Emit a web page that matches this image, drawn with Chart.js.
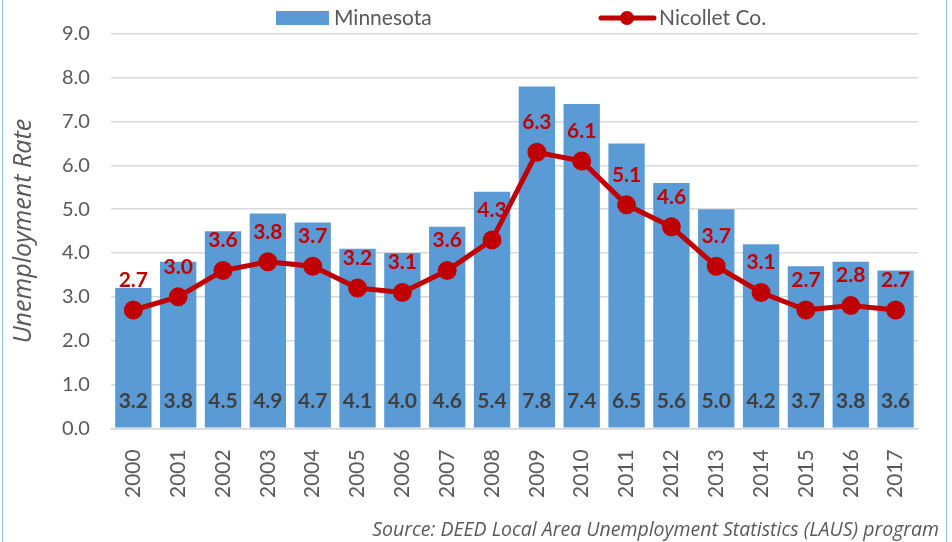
<!DOCTYPE html>
<html>
<head>
<meta charset="utf-8">
<script src="https://cdn.jsdelivr.net/npm/chart.js@4.4.1/dist/chart.umd.min.js"></script>
<style>
  html, body { margin: 0; padding: 0; background: #fff; }
  #wrap { position: absolute; left: 2px; top: -2px; width: 943px; height: 550px; border: 1px solid #9DC3E6; }
  canvas { position: absolute; left: -2px; top: 2px; }
</style>
</head>
<body>
<div id="wrap"><canvas id="lineChart" width="952" height="542"></canvas></div>
<script>
const years = ['2000','2001','2002','2003','2004','2005','2006','2007','2008','2009','2010','2011','2012','2013','2014','2015','2016','2017'];
const minnesota = [3.2, 3.8, 4.5, 4.9, 4.7, 4.1, 4.0, 4.6, 5.4, 7.8, 7.4, 6.5, 5.6, 5.0, 4.2, 3.7, 3.8, 3.6];
const nicollet = [2.7, 3.0, 3.6, 3.8, 3.7, 3.2, 3.1, 3.6, 4.3, 6.3, 6.1, 5.1, 4.6, 3.7, 3.1, 2.7, 2.8, 2.7];
const yTicks = [0, 1, 2, 3, 4, 5, 6, 7, 8, 9];
const sourceNote = 'Source: DEED Local Area Unemployment Statistics (LAUS) program';

const barColor = '#5B9BD5';
const lineColor = '#C00000';
const fontName = 'Lato, "Open Sans", sans-serif';
const italicFont = '"Open Sans", Lato, sans-serif';

// legend + source note drawn by hand (Chart.js legend padding is too tall here)
const extras = {
  id: 'extras',
  afterDraw(chart) {
    const ctx = chart.ctx;
    const y = 17;
    ctx.save();
    ctx.fillStyle = barColor;
    ctx.fillRect(275, y - 7, 53, 14);
    ctx.strokeStyle = lineColor;
    ctx.lineWidth = 5;
    ctx.lineCap = 'round';
    ctx.beginPath(); ctx.moveTo(600, y); ctx.lineTo(653, y); ctx.stroke();
    ctx.fillStyle = lineColor;
    ctx.beginPath(); ctx.arc(626, y, 7, 0, Math.PI * 2); ctx.fill();
    ctx.fillStyle = '#595959';
    ctx.font = '21px ' + fontName;
    ctx.textBaseline = 'middle';
    ctx.textAlign = 'left';
    ctx.fillText(chart.data.datasets[1].label, 333, y);
    ctx.fillText(chart.data.datasets[0].label, 658, y);
    ctx.font = 'italic 19.5px ' + italicFont;
    ctx.textAlign = 'right';
    ctx.fillText(sourceNote, 938, 529);
    ctx.restore();
  }
};

// value labels (bars at the bottom, line above points)
const valueLabels = {
  id: 'valueLabels',
  afterDatasetsDraw(chart) {
    const ctx = chart.ctx;
    const y0 = chart.scales.y.getPixelForValue(0);
    ctx.save();
    ctx.textAlign = 'center';
    ctx.textBaseline = 'middle';
    ctx.font = 'bold 21px ' + fontName;
    chart.getDatasetMeta(1).data.forEach(function (bar, i) {
      ctx.fillStyle = '#404040';
      ctx.fillText(minnesota[i].toFixed(1), bar.x, y0 - 27);
    });
    chart.getDatasetMeta(0).data.forEach(function (pt, i) {
      ctx.fillStyle = lineColor;
      ctx.fillText(nicollet[i].toFixed(1), pt.x, pt.y - 30);
    });
    ctx.restore();
  }
};

const ctx = document.getElementById('lineChart').getContext('2d');
const chart = new Chart(ctx, {
  data: {
    labels: years,
    datasets: [{
      type: 'line',
      label: 'Nicollet Co.',
      data: nicollet,
      borderColor: lineColor,
      backgroundColor: lineColor,
      borderWidth: 5,
      pointRadius: 7,
      pointHoverRadius: 7,
      fill: false,
      tension: 0
    }, {
      type: 'bar',
      label: 'Minnesota',
      data: minnesota,
      backgroundColor: barColor,
      barPercentage: 0.81,
      categoryPercentage: 1.0
    }]
  },
  options: {
    responsive: false,
    animation: false,
    layout: { padding: { left: 8, right: 35, top: 20, bottom: 32 } },
    scales: {
      x: {
        grid: { display: false },
        border: { color: '#D9D9D9', width: 1.5 },
        ticks: {
          color: '#595959',
          font: { family: fontName, size: 21 },
          minRotation: 90,
          maxRotation: 90,
          padding: 13
        }
      },
      y: {
        min: 0,
        max: 9,
        afterBuildTicks: function (axis) {
          axis.ticks = yTicks.map(function (v) { return { value: v }; });
        },
        grid: { color: '#D9D9D9', lineWidth: 1.5, drawTicks: false },
        border: { display: false },
        ticks: {
          color: '#595959',
          font: { family: fontName, size: 20 },
          padding: 21,
          callback: function (value) { return Number(value).toFixed(1); }
        },
        title: {
          display: true,
          text: 'Unemployment Rate',
          color: '#595959',
          font: { family: italicFont, size: 25, style: 'italic' },
          padding: { top: 0, bottom: 2 }
        }
      }
    },
    plugins: {
      tooltip: { enabled: false },
      legend: { display: false }
    }
  },
  plugins: [valueLabels, extras]
});
</script>
</body>
</html>
